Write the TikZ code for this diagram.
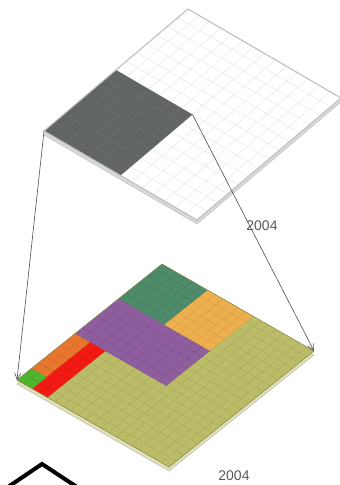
\documentclass[tikz,border=0pt]{standalone}
\usepackage{fontspec}
\setmainfont{Liberation Sans}
\usetikzlibrary{arrows.meta}

\definecolor{slab}{HTML}{626662}
\definecolor{olive}{HTML}{BBBC68}
\definecolor{pine}{HTML}{4E8B6A}
\definecolor{amber}{HTML}{EEB04E}
\definecolor{plum}{HTML}{8F5E9E}
\definecolor{rust}{HTML}{E8762E}
\definecolor{scarlet}{HTML}{F21A12}
\definecolor{leaf}{HTML}{4FB52E}

\begin{document}
\begin{tikzpicture}[
  x=1pt, y=-1pt,
  font=\small,
  sideface/.style={fill=black!15, draw=black!25, line width=0.5pt},
  gridline/.style={draw=black!10, line width=0.4pt},
  rim/.style={draw=black!25, line width=1.1pt, line join=round},
  arr/.style={-{Straight Barb[length=2.2mm, width=2.2mm]}, draw=black!70, line width=0.6pt},
  yr/.style={font=\fontsize{14}{16}\selectfont, text=black!65}
]
\useasboundingbox (0,0) rectangle (340,485);

% upper plate (2004)
\begin{scope}[shift={(44,131)}, x={(144pt,122pt)}, y={(153pt,-89pt)}]
  \fill[sideface, yshift=-4pt] (0,0) -- (1,0) -- (1,1) -- (0,1) -- cycle;
  \fill[white] (0,0) -- (1,0) -- (1,1) -- (0,1) -- cycle;
  \foreach \i in {1,...,13} {
    \draw[gridline] (\i/14,0) -- (\i/14,1);
    \draw[gridline] (0,\i/14) -- (1,\i/14);
  }
  \fill[slab] (0,0) -- (0.5,0) -- (0.5,0.5) -- (0,0.5) -- cycle;
  \foreach \i in {1,...,6} {
    \draw[black!55, line width=0.3pt] (\i/14,0) -- (\i/14,0.5);
    \draw[black!55, line width=0.3pt] (0,\i/14) -- (0.5,\i/14);
  }
  \draw[rim] (0,0) -- (1,0) -- (1,1) -- (0,1) -- cycle;
  \coordinate (upL) at (0,0);
  \coordinate (upK) at (0.5,0.5);
\end{scope}

% lower plate (2004)
\begin{scope}[shift={(17,380)}, x={(145pt,116pt)}, y={(152pt,-87pt)}]
  \fill[fill=olive!45, draw=olive!60!black!50, line width=0.5pt, yshift=-4pt]
    (0,0) -- (1,0) -- (1,1) -- (0,1) -- cycle;
  \foreach \c/\ua/\ub/\va/\vb in {olive/0/1/0/1, pine/0.7/1/0/0.3, amber/0.7/1/0.3/0.6,
      plum/0.4/0.7/0/0.6, rust/0.1/0.4/0/0.1, scarlet/0/0.4/0.1/0.2, leaf/0/0.1/0/0.1} {
    \fill[\c] (\ua,\va) -- (\ub,\va) -- (\ub,\vb) -- (\ua,\vb) -- cycle;
  }
  \foreach \i in {1,...,19} {
    \draw[black, opacity=0.1, line width=0.4pt] (\i/20,0) -- (\i/20,1);
    \draw[black, opacity=0.1, line width=0.4pt] (0,\i/20) -- (1,\i/20);
  }
  \draw[olive!70!black, line width=0.5pt] (0,0) -- (1,0) -- (1,1) -- (0,1) -- cycle;
  \coordinate (lowL) at (0,0);
  \coordinate (lowR) at (1,1);
\end{scope}

\draw[arr] (upL) -- (lowL);
\draw[arr] (upK) -- (lowR);

\node[yr] (yrup) at (262,226) {2004};
\node[yr] (yrlow) at (234,476) {2004};

% north mark
\draw[line width=4pt, line join=miter] (8,487) -- (42,464) -- (77,487);
\end{tikzpicture}
\end{document}
